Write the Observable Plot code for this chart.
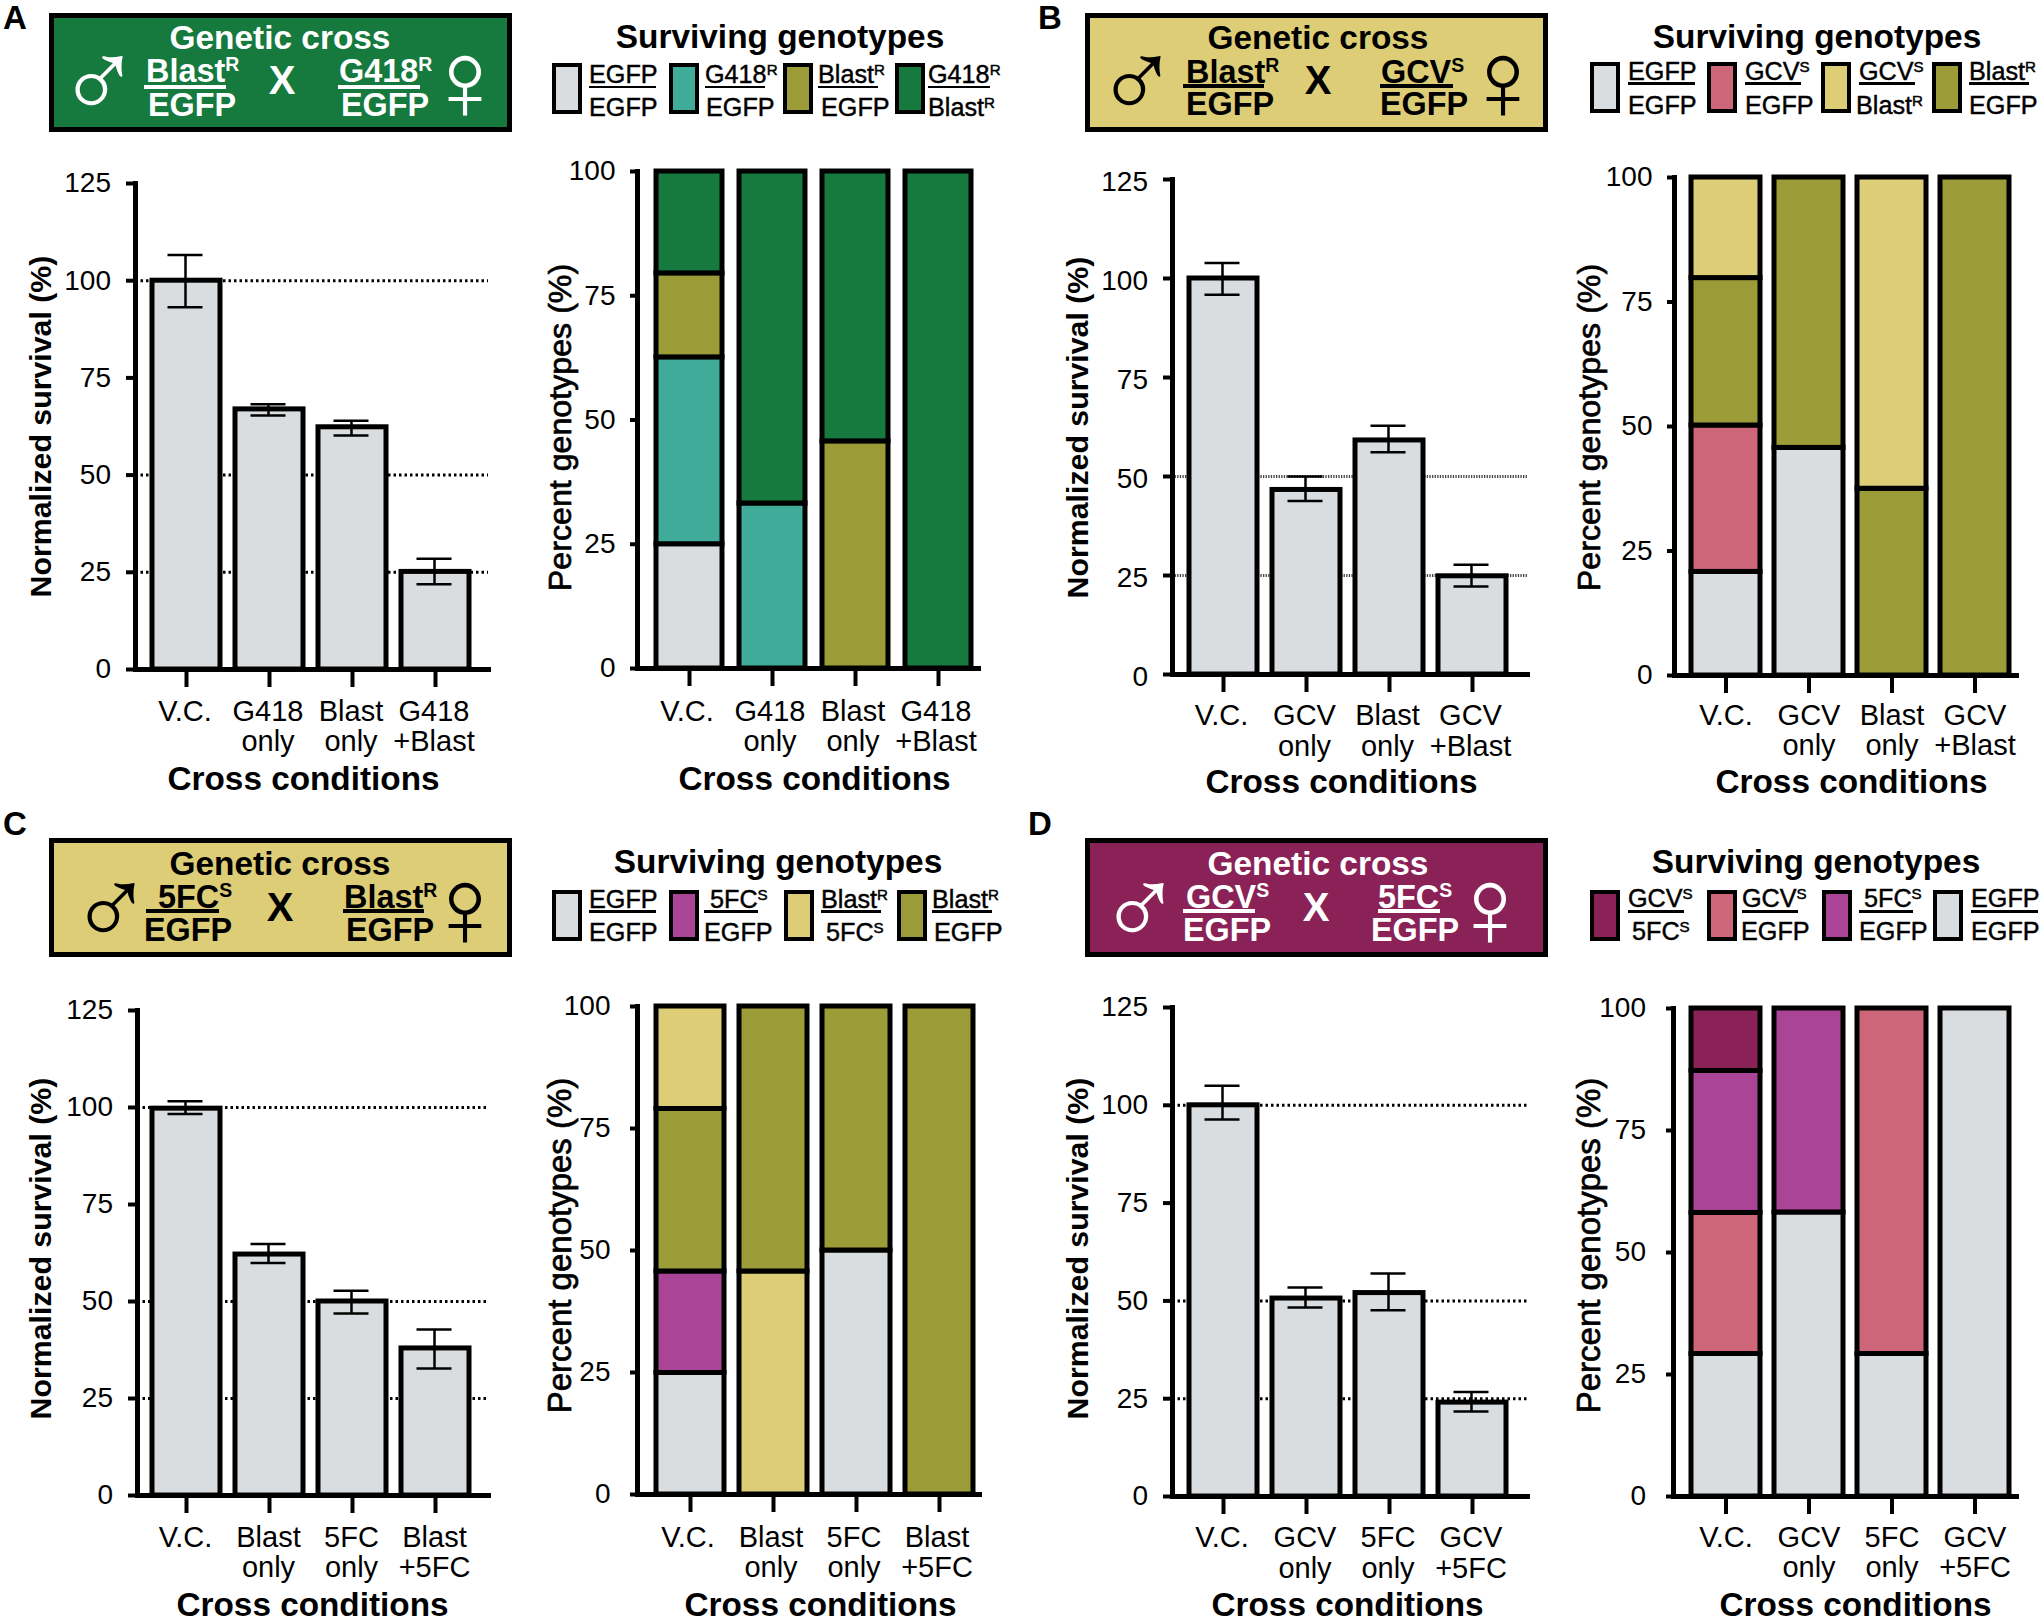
<!DOCTYPE html>
<html><head><meta charset="utf-8">
<script src="https://cdn.jsdelivr.net/npm/d3@7"></script>
<script src="https://cdn.jsdelivr.net/npm/@observablehq/plot@0.6"></script>
<style>
html,body{margin:0;padding:0;background:#fff;overflow:hidden}
#page{position:relative;width:2040px;height:1622px;font-family:"Liberation Sans",Arial,sans-serif;color:#000;overflow:hidden}
#page svg{position:absolute;background:transparent;overflow:visible}
.t{position:absolute;white-space:nowrap;line-height:1}
.t sup{font-size:.6em;line-height:0;vertical-align:.55em}
.box,.sw,.b{position:absolute;box-sizing:border-box}
</style></head><body><div id="page"></div>
<script>
// ---------- Colours ----------
const grey="#dadddf",teal="#40ab98",olive="#9b9b38",green="#16793e",yellow="#ddcd76",pink="#cc6678",purple="#a94496",wine="#8a2257";

// ---------- Panel A ----------
const conditionsA=["V.C.","G418\nonly","Blast\nonly","G418\n+Blast"];
const survivalA=[100,66.9,62.3,25.1];
const errLowA=[93.2,65.3,60.2,21.9];
const errHighA=[106.6,68.2,64,28.5];
const dottedA=[25,50,100];
const genotypeNamesA=["EGFP/EGFP","G418R/EGFP","BlastR/EGFP","G418R/BlastR"];
const genotypeColorsA=[grey,teal,olive,green];
const stackA=[[["EGFP/EGFP",25],["G418R/EGFP",37.6],["BlastR/EGFP",16.9],["G418R/BlastR",20.5]],
 [["G418R/EGFP",33.2],["G418R/BlastR",66.8]],
 [["BlastR/EGFP",45.7],["G418R/BlastR",54.3]],
 [["G418R/BlastR",100]]];

// ---------- Panel B ----------
const conditionsB=["V.C.","GCV\nonly","Blast\nonly","GCV\n+Blast"];
const survivalB=[100,46.6,59.1,24.8];
const errLowB=[95.9,43.8,56.1,22.2];
const errHighB=[103.9,50,62.8,27.7];
const dottedB=[25,50];
const genotypeNamesB=["EGFP/EGFP","GCVS/EGFP","BlastR/EGFP","GCVS/BlastR"];
const genotypeColorsB=[grey,pink,olive,yellow];
const stackB=[[["EGFP/EGFP",20.8],["GCVS/EGFP",29.4],["BlastR/EGFP",29.6],["GCVS/BlastR",20.2]],
 [["EGFP/EGFP",45.7],["BlastR/EGFP",54.3]],
 [["BlastR/EGFP",37.5],["GCVS/BlastR",62.5]],
 [["BlastR/EGFP",100]]];

// ---------- Panel C ----------
const conditionsC=["V.C.","Blast\nonly","5FC\nonly","Blast\n+5FC"];
const survivalC=[99.7,62.1,50,37.9];
const errLowC=[98.3,59.9,46.9,32.7];
const errHighC=[101.6,64.8,52.8,42.8];
const dottedC=[25,50,100];
const genotypeNamesC=["EGFP/EGFP","5FCS/EGFP","BlastR/5FCS","BlastR/EGFP"];
const genotypeColorsC=[grey,purple,yellow,olive];
const stackC=[[["EGFP/EGFP",24.9],["5FCS/EGFP",20.8],["BlastR/EGFP",33.3],["BlastR/5FCS",21]],
 [["BlastR/5FCS",45.7],["BlastR/EGFP",54.3]],
 [["EGFP/EGFP",50],["BlastR/EGFP",50]],
 [["BlastR/EGFP",100]]];

// ---------- Panel D ----------
const conditionsD=["V.C.","GCV\nonly","5FC\nonly","GCV\n+5FC"];
const survivalD=[100,50.6,52,24];
const errLowD=[96.4,48.3,47.6,21.7];
const errHighD=[105,53.4,57,26.7];
const dottedD=[25,50,100];
const genotypeNamesD=["GCVS/5FCS","GCVS/EGFP","5FCS/EGFP","EGFP/EGFP"];
const genotypeColorsD=[wine,pink,purple,grey];
const stackD=[[["EGFP/EGFP",29.2],["GCVS/EGFP",28.9],["5FCS/EGFP",29.1],["GCVS/5FCS",12.8]],
 [["EGFP/EGFP",58.2],["5FCS/EGFP",41.8]],
 [["EGFP/EGFP",29.2],["GCVS/EGFP",70.8]],
 [["EGFP/EGFP",100]]];

// ---------- Text ----------
const crossTitle="Genetic cross", legendTitle="Surviving genotypes";
const survivalLabel="Normalized survival (%)", genotypeLabel="Percent genotypes (%)", conditionLabel="Cross conditions";
const survivalTicks=[0,25,50,75,100,125], genotypeTicks=[0,25,50,75,100];

const page=document.getElementById("page");
const FONT='"Liberation Sans",Arial,sans-serif';

function bandX(centers,barW){
  const step=(centers[3]-centers[0])/3, inner=1-barW/step;
  return {range:[centers[0]-step/2,centers[3]+step/2],step,paddingInner:inner,paddingOuter:inner/2};
}
function place(marks,g,yDomain,conds,ticks,tickLen,pad){
  const left=g.axisX-125, top=g.yTop-22, mb=127, width=g.right-left+12;
  const height=g.y0-top+mb, b=bandX(g.centers.map(c=>c-left),g.barW);
  const base=[
    Plot.axisY({ticks,tickSize:tickLen,strokeWidth:4,label:null,fill:"none"}),
    Plot.axisY({ticks,tickSize:0,tickPadding:tickLen+pad,fontSize:28,dy:g.labelDy||0,label:null,tickFormat:d=>String(d)}),
    Plot.axisX({domain:conds,tickSize:18,strokeWidth:4,label:null,fill:"none"}),
    Plot.axisX({domain:conds,tickSize:0,tickPadding:18+g.xPad,fontSize:29,dx:g.xLabelDx||0,label:null,lineHeight:1.05,textOverflow:null}),
  ];
  const frames=[Plot.frame({anchor:"left",strokeWidth:5,stroke:"#000"}),Plot.frame({anchor:"bottom",strokeWidth:5,stroke:"#000"})];
  const svg=Plot.plot({width,height,marginLeft:125,marginTop:22,marginRight:12,marginBottom:mb,
    style:{fontFamily:FONT,color:"#000",background:"transparent",overflow:"visible"},
    x:{type:"band",domain:conds,range:b.range,paddingInner:b.paddingInner,paddingOuter:b.paddingOuter,align:.5},
    y:{domain:yDomain},
    color:g.color,
    marks:[...marks,...base,...frames,...g.extra]});
  svg.style.left=left+"px"; svg.style.top=top+"px";
  page.appendChild(svg);
}
function xTitle(g){
  const frameCenter=(g.axisX+g.right)/2;
  return Plot.text([conditionLabel],{frameAnchor:"bottom",lineAnchor:"bottom",textAnchor:"middle",fontSize:33.3,fontWeight:"bold",
    dx:g.xTitleX-frameCenter,dy:g.baseXTitle-g.y0});
}
function survivalChart(g,conds,vals,lo,hi,dotted,dotStyle){
  const rows=conds.map((c,i)=>({c,v:vals[i],lo:lo[i],hi:hi[i]}));
  const fc=(g.yTop+g.y0)/2;
  g.extra=[xTitle(g),
    Plot.text([survivalLabel],{frameAnchor:"left",lineAnchor:"bottom",textAnchor:"middle",rotate:-90,fontSize:30.3,fontWeight:"bold",
      dx:g.yTitleX-g.axisX,dy:g.yTitleY-fc})];
  const capInset=(g.barW-35)/2;
  place([
    Plot.ruleY(dotted,{stroke:dotStyle.stroke,strokeWidth:dotStyle.w,strokeDasharray:dotStyle.dash}),
    Plot.barY(rows,{x:"c",y:"v",fill:grey,stroke:"#000",strokeWidth:5}),
    Plot.ruleX(rows,{x:"c",y1:"lo",y2:"hi",stroke:"#000",strokeWidth:2.5,dx:-1}),
    Plot.tickY(rows,{x:"c",y:"lo",stroke:"#000",strokeWidth:2.5,insetLeft:capInset,insetRight:capInset,dx:-1}),
    Plot.tickY(rows,{x:"c",y:"hi",stroke:"#000",strokeWidth:2.5,insetLeft:capInset,insetRight:capInset,dx:-1}),
  ],g,[0,125],conds,survivalTicks,9,15.5);
}
function stackChart(g,conds,stack,names,colors){
  const rows=stack.flatMap((segs,i)=>segs.map(([genotype,value])=>({c:conds[i],genotype,value})));
  const fc=(g.yTop+g.y0)/2, size=g.labelSize;
  g.color={domain:names,range:colors};
  g.extra=[xTitle(g),
    Plot.text([genotypeLabel],{frameAnchor:"left",lineAnchor:"bottom",textAnchor:"middle",rotate:-90,fontSize:size,fill:"#000",stroke:"#000",strokeWidth:.7,paintOrder:"fill",
      dx:g.yTitleX-g.axisX,dy:g.yTitleY-fc})];
  place([
    Plot.barY(rows,{x:"c",y:"value",fill:"genotype",stroke:"#000",strokeWidth:5,order:null}),
  ],g,[0,100],conds,genotypeTicks,7,g.tickPad);
}

// ---------- Charts ----------
const dots={stroke:"#000",w:3,dash:"2.5,3"}, denseDots={stroke:"#444",w:3,dash:"1.3,1.3"};
const leftBars=[185,268.5,352,435], rightBars=[1222.5,1306,1389,1472.5];
const leftStack=[689,772,855.5,938], rightStack=[1725,1808,1891,1974];
survivalChart({axisX:135,right:488,yTop:183,y0:669,centers:leftBars,barW:68,xPad:11.5,xLabelDx:-1.5,xTitleX:303,baseXTitle:789,yTitleX:50,yTitleY:426},conditionsA,survivalA,errLowA,errHighA,dottedA,dots);
survivalChart({axisX:1172,right:1527,yTop:179,y0:674,centers:rightBars,barW:68,labelDy:3,xPad:11,xLabelDx:-2,xTitleX:1341,baseXTitle:792,yTitleX:1087,yTitleY:427},conditionsB,survivalB,errLowB,errHighB,dottedB,denseDots);
survivalChart({axisX:137,right:488,yTop:1010,y0:1495,centers:leftBars,barW:68,xPad:11.5,xLabelDx:-1,xTitleX:312,baseXTitle:1615,yTitleX:50,yTitleY:1248},conditionsC,survivalC,errLowC,errHighC,dottedC,dots);
survivalChart({axisX:1172,right:1527,yTop:1007,y0:1496,centers:rightBars,barW:68,xPad:11,xLabelDx:-1.5,xTitleX:1347,baseXTitle:1615,yTitleX:1087,yTitleY:1248},conditionsD,survivalD,errLowD,errHighD,dottedD,dots);
stackChart({axisX:637,right:978,yTop:171,y0:668,centers:leftStack,barW:66,xPad:12.5,xLabelDx:-2.5,tickPad:15,labelSize:32.2,xTitleX:814,baseXTitle:789,yTitleX:570,yTitleY:427},conditionsA,stackA,genotypeNamesA,genotypeColorsA);
stackChart({axisX:1674,right:2016,yTop:177,y0:675,centers:rightStack,barW:69,xPad:9.5,xLabelDx:0,tickPad:15,labelSize:32.2,xTitleX:1851,baseXTitle:792,yTitleX:1599,yTitleY:427},conditionsB,stackB,genotypeNamesB,genotypeColorsB);
stackChart({axisX:637,right:979,yTop:1006,y0:1494,centers:[689.5,772.5,856,938.5],barW:68,xPad:12.5,xLabelDx:-2.5,tickPad:20,labelSize:33,xTitleX:820,baseXTitle:1615,yTitleX:570,yTitleY:1245},conditionsC,stackC,genotypeNamesC,genotypeColorsC);
stackChart({axisX:1673,right:2016,yTop:1008,y0:1496,centers:rightStack,barW:69,xPad:10.5,xLabelDx:0,tickPad:20.5,labelSize:33,xTitleX:1855,baseXTitle:1615,yTitleX:1599,yTitleY:1245},conditionsD,stackD,genotypeNamesD,genotypeColorsD);

// ---------- Header boxes and legends (HTML) ----------
function txt(s,x,base,size,o={}){
  const d=document.createElement("div"); d.className="t";
  d.innerHTML=s.replace(/\^(\w)/g,"<sup>$1</sup>");
  d.style.left=x+"px"; d.style.top=(base-.8465*size)+"px"; d.style.fontSize=size+"px";
  d.style.fontWeight=o.weight||"bold"; d.style.color=o.color||"#000";
  if(o.center) d.style.transform="translateX(-50%)";
  if(o.font) d.style.fontFamily=o.font;
  if(o.stroke) d.style.webkitTextStroke=o.stroke;
  page.appendChild(d); return d;
}
function bar(x,y,w,h,color){const d=document.createElement("div");d.className="b";
  d.style.cssText+=`left:${x}px;top:${y}px;width:${w}px;height:${h}px;background:${color}`;page.appendChild(d);}
function header(h){
  const d=document.createElement("div"); d.className="box";
  d.style.cssText+=`left:${h.x}px;top:${h.y}px;width:463px;height:119px;background:${h.fill};border:5px solid #000`;
  page.appendChild(d);
  const c=h.color;
  txt(crossTitle,h.titleX,h.titleBase,33.4,{color:c,center:true});
  h.fracs.forEach(f=>{
    txt(f.num,f.numX,h.numBase+1+(h.numDy||0),32.4,{color:c});
    bar(f.barX,h.barY,f.barW,3.5,c);
    txt("EGFP",f.denX,h.denBase,32.4,{color:c});
  });
  txt("X",h.xX,h.numBase+14,40,{color:c,center:true});
  const sym={color:c,center:true,font:'"Liberation Sans"',weight:"normal"};
  txt("\u2642",h.male,h.numBase+40,112,sym);
  txt("\u2640",h.female,h.numBase+41,114,sym);
}
function legend(l){
  txt(legendTitle,l.titleX,l.titleBase,33.4,{center:true});
  l.items.forEach(it=>{
    const s=document.createElement("div"); s.className="sw";
    s.style.cssText+=`left:${it.sx-1}px;top:${l.y}px;width:30px;height:51px;background:${it.fill};border:4.5px solid #000`;
    page.appendChild(s);
    const o={weight:"normal",stroke:"0.45px #000"};
    txt(it.num,it.nx,l.numBase,25.2,o);
    bar(it.bx,l.barY,it.bw,2.5,"#000");
    txt(it.den,it.dx,l.denBase,25.2,o);
  });
}
const letters=[["A",3,29],["B",1038,29],["C",3,835],["D",1028,835]];
letters.forEach(([s,x,y])=>txt(s,x,y,33));

header({x:49,y:13,fill:green,color:"#fff",titleX:280,titleBase:49,numBase:80,numDy:1,barY:85,denBase:116,xX:282,male:99,female:465,
  fracs:[{num:"Blast^R",numX:146,barX:144,barW:82,denX:148},{num:"G418^R",numX:339,barX:338,barW:82,denX:341}]});
header({x:1085,y:13,fill:yellow,color:"#000",titleX:1318,titleBase:49,numBase:80,numDy:2,barY:84,denBase:115,xX:1318,male:1137,female:1503,
  fracs:[{num:"Blast^R",numX:1186,barX:1183,barW:81,denX:1186},{num:"GCV^S",numX:1381,barX:1380,barW:73,denX:1380}]});
header({x:49,y:838,fill:yellow,color:"#000",titleX:280,titleBase:875,numBase:907,barY:909,denBase:941,xX:280,male:111,female:465,
  fracs:[{num:"5FC^S",numX:158,barX:146,barW:73,denX:144},{num:"Blast^R",numX:344,barX:343,barW:81,denX:346}]});
header({x:1085,y:838,fill:wine,color:"#fff",titleX:1318,titleBase:875,numBase:907,barY:909,denBase:941,xX:1316,male:1140,female:1490,
  fracs:[{num:"GCV^S",numX:1186,barX:1183,barW:72,denX:1183},{num:"5FC^S",numX:1378,barX:1378,barW:62,denX:1371}]});

legend({titleX:780,titleBase:48,y:63,numBase:83,barY:85.5,denBase:116,items:[
 {sx:553,fill:grey,num:"EGFP",nx:589,bx:589,bw:67,den:"EGFP",dx:589},
 {sx:670,fill:teal,num:"G418^R",nx:705,bx:705,bw:60,den:"EGFP",dx:706},
 {sx:784,fill:olive,num:"Blast^R",nx:818,bx:818,bw:60,den:"EGFP",dx:821},
 {sx:896,fill:green,num:"G418^R",nx:928,bx:928,bw:62,den:"Blast^R",dx:928}]});
legend({titleX:1817,titleBase:48,y:62,numBase:80,barY:82,denBase:114,items:[
 {sx:1591,fill:grey,num:"EGFP",nx:1628,bx:1628,bw:67,den:"EGFP",dx:1628},
 {sx:1708,fill:pink,num:"GCV^S",nx:1745,bx:1745,bw:56,den:"EGFP",dx:1745},
 {sx:1822,fill:yellow,num:"GCV^S",nx:1859,bx:1859,bw:56,den:"Blast^R",dx:1856},
 {sx:1933,fill:olive,num:"Blast^R",nx:1969,bx:1969,bw:60,den:"EGFP",dx:1969}]});
legend({titleX:778,titleBase:873,y:890,numBase:908,barY:910,denBase:941,items:[
 {sx:553,fill:grey,num:"EGFP",nx:589,bx:589,bw:67,den:"EGFP",dx:589},
 {sx:670,fill:purple,num:"5FC^S",nx:710,bx:704,bw:54,den:"EGFP",dx:704},
 {sx:785,fill:yellow,num:"Blast^R",nx:821,bx:821,bw:60,den:"5FC^S",dx:826},
 {sx:898,fill:olive,num:"Blast^R",nx:932,bx:932,bw:60,den:"EGFP",dx:934}]});
legend({titleX:1816,titleBase:873,y:890,numBase:907,barY:910,denBase:940,items:[
 {sx:1591,fill:wine,num:"GCV^S",nx:1628,bx:1628,bw:56,den:"5FC^S",dx:1632},
 {sx:1708,fill:pink,num:"GCV^S",nx:1742,bx:1742,bw:56,den:"EGFP",dx:1741},
 {sx:1823,fill:purple,num:"5FC^S",nx:1864,bx:1859,bw:54,den:"EGFP",dx:1859},
 {sx:1934,fill:grey,num:"EGFP",nx:1971,bx:1971,bw:67,den:"EGFP",dx:1971}]});
</script></body></html>
